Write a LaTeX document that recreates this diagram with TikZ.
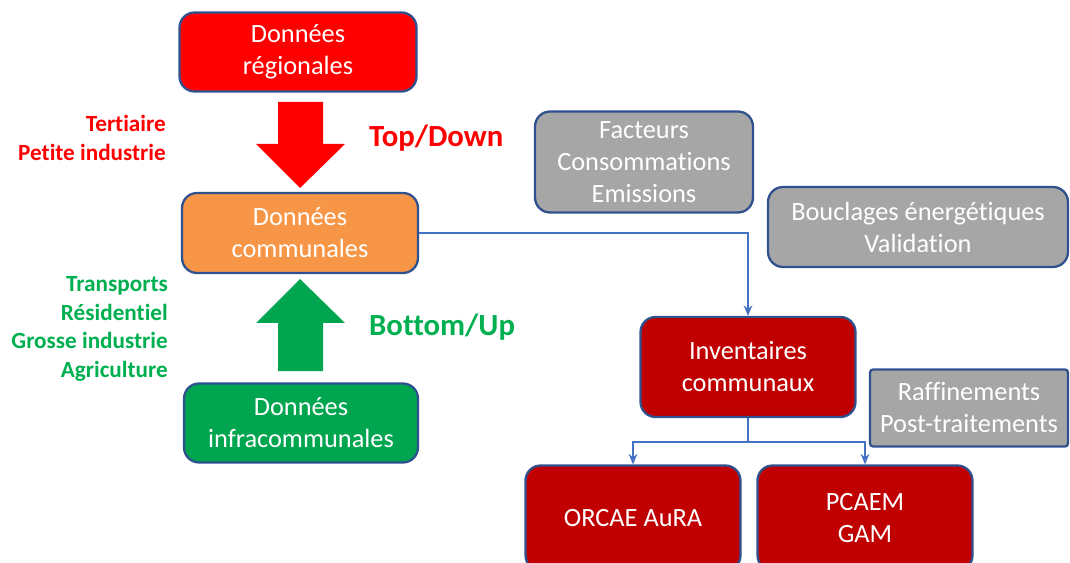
\documentclass[tikz,border=0pt]{standalone}
\usepackage{fontspec}
\setmainfont{Carlito}[Ligatures=NoCommon]
\usetikzlibrary{arrows.meta}

\definecolor{rouge}{HTML}{FF0000}
\definecolor{rougefonce}{HTML}{C00000}
\definecolor{orange}{HTML}{F79646}
\definecolor{vert}{HTML}{00A550}
\definecolor{vertclair}{HTML}{00B050}
\definecolor{gris}{HTML}{A6A6A6}
\definecolor{bordbleu}{HTML}{2F528F}
\definecolor{lienbleu}{HTML}{4472C4}

\begin{document}
\begin{tikzpicture}[x=0.02cm, y=-0.02cm,
  boite/.style={draw=bordbleu, line width=1.3pt, rounded corners=0.3cm,
    text=white, align=center, inner sep=0pt,
    font=\fontsize{15}{18.2}\selectfont},
  lien/.style={draw=lienbleu, line width=0.7pt, -{Stealth[length=6pt, width=5pt]}},
  secteur/.style={anchor=east, align=right, font=\bfseries\fontsize{13.2}{16.4}\selectfont},
  sens/.style={anchor=west, font=\bfseries\fontsize{17.5}{21}\selectfont}]
  \useasboundingbox (0,0) rectangle (1070,563);

  % 左列：三层数据
  \node[boite, fill=rouge, minimum width=4.74cm, minimum height=1.58cm] (reg) at (298,52) {Données\\régionales};
  \node[boite, fill=orange, minimum width=4.72cm, minimum height=1.6cm] (comm) at (300,233) {Données\\communales};
  \node[boite, fill=vert, minimum width=4.68cm, minimum height=1.58cm] (infra) at (301,423) {Données\\infracommunales};

  % 粗箭头 Top/Down
  \fill[rouge] (278,102) -- (323,102) -- (323,144) -- (345,144) -- (300,188)
    -- (256,144) -- (278,144) -- cycle;
  \node[secteur, text=rouge] (tert) at (172,138) {Tertiaire\\Petite industrie};
  \node[sens, text=rouge] (topdown) at (363,138) {Top/Down};

  % 粗箭头 Bottom/Up
  \fill[vert] (278,371) -- (323,371) -- (323,323) -- (345,323) -- (300,279)
    -- (256,323) -- (278,323) -- cycle;
  \node[secteur, text=vertclair] (transp) at (174,329) {Transports\\Résidentiel\\Grosse industrie\\Agriculture};
  \node[sens, text=vertclair] (bottomup) at (363,327) {Bottom/Up};

  % 右侧方框
  \node[boite, fill=gris, minimum width=4.36cm, minimum height=2.02cm] (fact) at (644,162) {Facteurs\\Consommations\\Emissions};
  \node[boite, fill=gris, minimum width=6.0cm, minimum height=1.6cm] (boucl) at (918,227) {Bouclages énergétiques\\Validation};
  \node[boite, fill=rougefonce, minimum width=4.3cm, minimum height=2.0cm] (inv) at (748,367) {Inventaires\\communaux};
  \node[boite, fill=gris, rounded corners=0.06cm, minimum width=3.96cm, minimum height=1.54cm] (raff) at (969,408) {Raffinements\\Post-traitements};
  \node[boite, fill=rougefonce, minimum width=4.3cm, minimum height=2.1cm] (orcae) at (633,518) {ORCAE AuRA};
  \node[boite, fill=rougefonce, minimum width=4.3cm, minimum height=2.1cm] (pcaem) at (865,518) {PCAEM\\GAM};

  % 连线
  \coordinate (fourche) at (748,442);
  \draw[lien] (comm.east) -| (inv.north);
  \draw[lienbleu, line width=0.7pt] (inv.south) -- (fourche);
  \draw[lien] (fourche) -| (orcae.north);
  \draw[lien] (fourche) -| (pcaem.north);
\end{tikzpicture}
\end{document}
